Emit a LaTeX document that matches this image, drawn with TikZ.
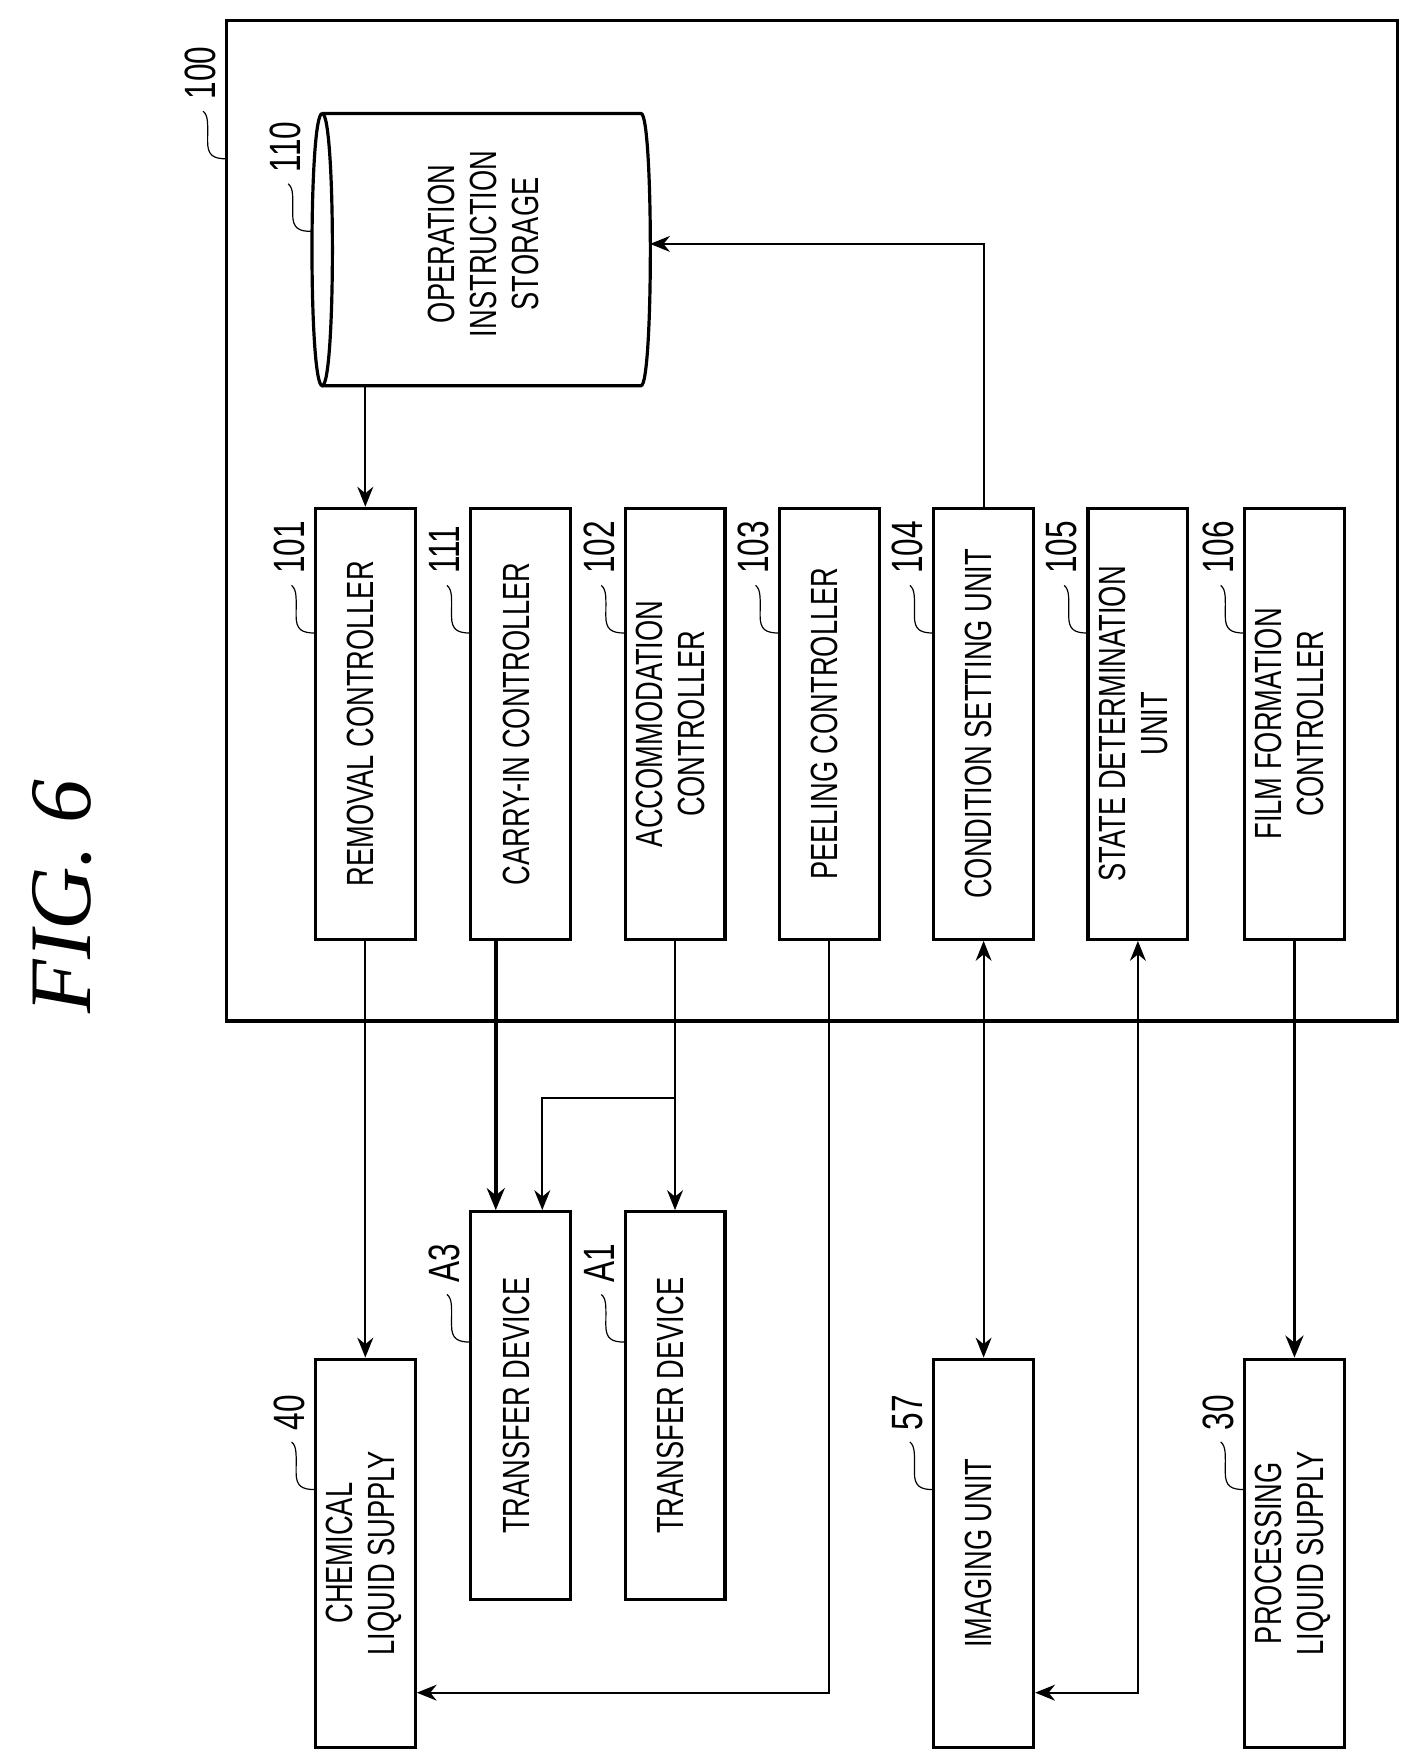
\documentclass[tikz,border=0pt]{standalone}
\usepackage{fontspec}
\setmainfont{Liberation Sans}
\newfontfamily\narrowfont{Liberation Sans}[FakeStretch=0.72]
\usetikzlibrary{arrows.meta,shapes.geometric}
\tikzset{
  box/.style={draw, line width=1.6pt, minimum width=1.76cm, minimum height=7.6cm, inner sep=0pt, font=\narrowfont\fontsize{19}{21}\selectfont},
  lowbox/.style={box, minimum height=6.84cm},
  num/.style={font=\narrowfont\fontsize{22}{24}\selectfont, inner sep=0pt},
  line/.style={line width=0.9pt, -{Stealth[length=10pt,width=8pt]}},
  bold/.style={line width=1.8pt, -{Stealth[length=11pt,width=9pt]}},
  both/.style={line width=0.9pt, {Stealth[length=10pt,width=8pt]}-{Stealth[length=10pt,width=8pt]}}
}
% tag with a wavy leader, attached at (x,y)
\newcommand\tagnum[3]{%
  \draw[line width=0.6pt] (#1,#2) .. controls (#1-12,#2) and (#1-17,#2-3) .. (#1-17,#2-15)
    .. controls (#1-17,#2-30) and (#1-16,#2-38) .. (#1-21,#2-42);
  \node[num, rotate=90, anchor=west] at (#1-23,#2-52) {#3};}
\newcommand\rtext[1]{\rotatebox{90}{\begin{tabular}{@{}c@{}}#1\end{tabular}}}
\begin{document}
\begin{tikzpicture}[x=0.02cm, y=-0.02cm]
\useasboundingbox (0,0) rectangle (1240,1554);
\node[rotate=90, font=\fontspec{Liberation Serif}\itshape\fontsize{44}{48}\selectfont] (fig) at (55,790) {FIG. 6};
% controller unit
\draw[line width=1.6pt] (200,18) rectangle (1232,900);
\tagnum{200}{140}{100}
% storage cylinder
\draw[line width=1.6pt] (284,100) -- (565,100) .. controls (576,100) and (576,340) .. (565,340) -- (284,340);
\draw[line width=1.6pt] (284,100) .. controls (272,100) and (272,340) .. (284,340)
  .. controls (296,340) and (296,100) .. (284,100);
\coordinate (stN) at (322,340);
\coordinate (stE) at (573,215);
\node[font=\narrowfont\fontsize{19}{21}\selectfont] (st) at (430,215) {\rtext{OPERATION\\INSTRUCTION\\STORAGE}};
\tagnum{275}{204}{110}
% controllers
\node[box] (rem) at (322,638) {\rtext{REMOVAL CONTROLLER}};
\node[box] (car) at (459,638) {\rtext{CARRY-IN CONTROLLER}};
\node[box] (acc) at (595,638) {\rtext{ACCOMMODATION\\CONTROLLER}};
\node[box] (pee) at (731,638) {\rtext{PEELING CONTROLLER}};
\node[box] (con) at (867,638) {\rtext{CONDITION SETTING UNIT}};
\node[box] (sta) at (1003,638) {\rtext{STATE DETERMINATION\\UNIT}};
\node[box] (fil) at (1141,638) {\rtext{FILM FORMATION\\CONTROLLER}};
\foreach \xx/\tg in {278/101, 415/111, 551/102, 687/103, 823/104, 959/105, 1097/106}
  \tagnum{\xx}{558}{\tg};
% devices
\node[lowbox] (chem) at (322,1369) {\rtext{CHEMICAL\\LIQUID SUPPLY}};
\node[lowbox] (ta3) at (459,1239) {\rtext{TRANSFER DEVICE}};
\node[lowbox] (ta1) at (595,1239) {\rtext{TRANSFER DEVICE}};
\node[lowbox] (img) at (867,1369) {\rtext{IMAGING UNIT}};
\node[lowbox] (proc) at (1141,1369) {\rtext{PROCESSING\\LIQUID SUPPLY}};
\tagnum{278}{1313}{40}
\tagnum{415}{1183}{A3}
\tagnum{551}{1183}{A1}
\tagnum{823}{1313}{57}
\tagnum{1097}{1313}{30}
% connectors
\draw[line] (stN) -- (rem.north);
\draw[line] (con.north) |- (stE);
\draw[line] (rem.south) -- (chem.north);
\draw[bold] (car.south -| 437,0) -- (ta3.north -| 437,0);
\draw[line] (acc.south) -- (ta1.north);
\coordinate (br) at (595,968);
\draw[line] (br) -| (ta3.north -| 478,0);
\draw[line] (pee.south) |- (chem.east |- 0,1492);
\draw[both] (con.south) -- (img.north);
\draw[both] (sta.south) |- (img.east |- 0,1492);
\draw[bold] (fil.south) -- (proc.north);
\end{tikzpicture}
\end{document}
